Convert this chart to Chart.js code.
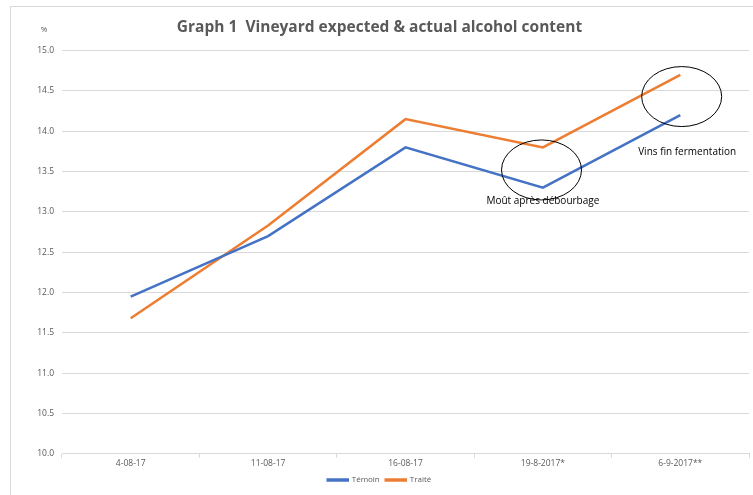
<!DOCTYPE html>
<html>
<head>
<meta charset="utf-8">
<script src="https://cdn.jsdelivr.net/npm/chart.js@4/dist/chart.umd.min.js"></script>
<style>
  html, body { margin: 0; padding: 0; background: #fff; overflow: hidden; }
  #frame {
    position: absolute; left: 10px; top: 6px; width: 800px; height: 600px;
    border: 1px solid #d9d9d9;
  }
  #wrap { position: absolute; left: 0; top: 0; width: 753px; height: 495px; }
</style>
</head>
<body>
<div id="frame"></div>
<div id="wrap"><canvas id="chart"></canvas></div>
<script>
// data
const dates  = ["4-08-17", "11-08-17", "16-08-17", "19-8-2017*", "6-9-2017**"]
const temoin = [11.95, 12.7, 13.8, 13.3, 14.2]
const traite = [11.68, 12.83, 14.15, 13.8, 14.7]

// annotations: [category index, value, text]
const notes   = [[3, 13.13, "Moût après débourbage"], [4.05, 13.74, "Vins fin fermentation"]]
// circled areas: [category index, value]
const circles = [[2.99, 13.52], [4.01, 14.43]]

const FONT = "'Open Sans', 'Liberation Sans', sans-serif"

// ─── ANNOTATION PLUGIN ───────────────────────────────────────────────────────
const annotations = {
  id: "annotations",
  afterDatasetsDraw(chart) {
    const { ctx, scales: { x, y } } = chart
    const xAt = i => x.getPixelForValue(Math.floor(i)) + (i - Math.floor(i)) * (x.getPixelForValue(1) - x.getPixelForValue(0))
    ctx.save()
    ctx.strokeStyle = "#000"
    ctx.lineWidth = 1
    circles.forEach(([i, v]) => {
      ctx.beginPath()
      ctx.ellipse(xAt(i), y.getPixelForValue(v), 40, 30, 0, 0, Math.PI * 2)
      ctx.stroke()
    })
    ctx.fillStyle = "#000"
    ctx.font = "10px " + FONT
    ctx.textAlign = "center"
    ctx.textBaseline = "middle"
    notes.forEach(([i, v, t]) => ctx.fillText(t, xAt(i), y.getPixelForValue(v)))

    // unit label
    ctx.fillStyle = "#595959"
    ctx.font = "8px " + FONT
    ctx.fillText("%", 44, 30)
    ctx.restore()
  }
}

new Chart(document.getElementById("chart"), {
  type: "line",
  data: {
    labels: dates,
    datasets: [
      { label: "Témoin", data: temoin, borderColor: "#4472C4", backgroundColor: "#4472C4",
        borderWidth: 2.5, pointRadius: 0, tension: 0 },
      { label: "Traité", data: traite, borderColor: "#ED7D31", backgroundColor: "#ED7D31",
        borderWidth: 2.5, pointRadius: 0, tension: 0 },
    ]
  },
  options: {
    responsive: true,
    maintainAspectRatio: false,
    animation: false,
    layout: { padding: { left: 10, right: 4, top: 0, bottom: 1 } },
    plugins: {
      title: {
        display: true,
        text: "Graph 1  Vineyard expected & actual alcohol content",
        color: "#595959",
        font: { family: FONT, size: 15.5, weight: "bold" },
        padding: { top: 18, bottom: 14 }
      },
      legend: {
        position: "bottom",
        labels: {
          color: "#595959",
          font: { family: FONT, size: 8 },
          boxWidth: 20, boxHeight: 1,
          padding: 6
        }
      },
      tooltip: { enabled: false }
    },
    scales: {
      x: {
        offset: true,
        grid: { drawOnChartArea: false, offset: true, tickLength: 4, color: "#d9d9d9" },
        border: { color: "#d9d9d9" },
        ticks: { color: "#595959", font: { family: FONT, size: 8.5 }, padding: 1 }
      },
      y: {
        min: 10, max: 15,
        afterFit: s => { s.width = 52 },
        grid: { color: "#d9d9d9", drawTicks: false },
        border: { display: false },
        ticks: { stepSize: 0.5, padding: 8, color: "#595959", font: { family: FONT, size: 8.5 },
                 callback: v => v.toFixed(1) }
      }
    }
  },
  plugins: [annotations]
})
</script>
</body>
</html>
